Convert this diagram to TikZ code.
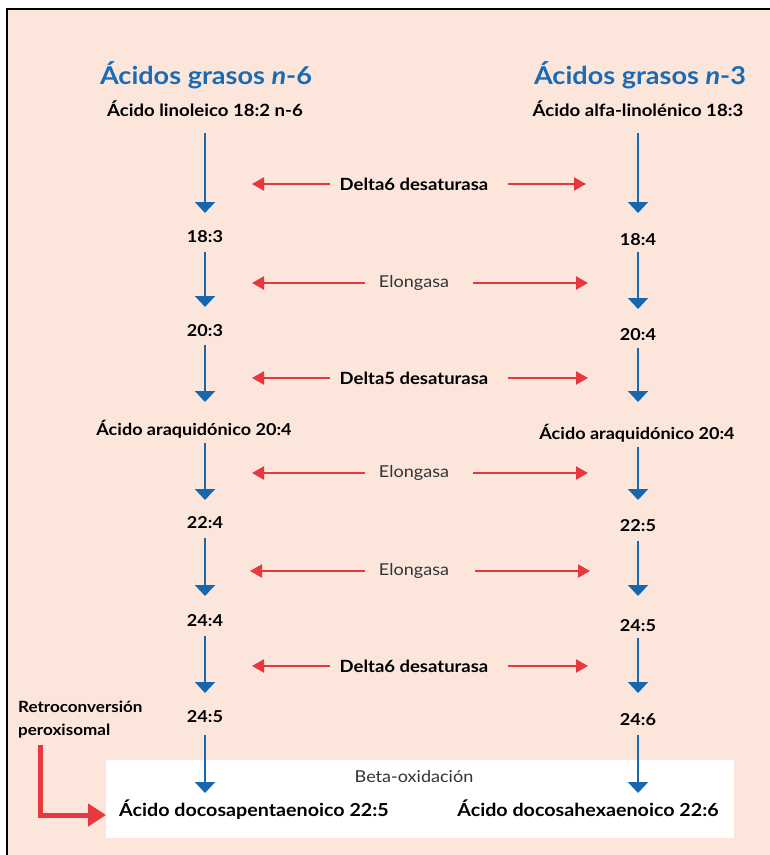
\documentclass[tikz,border=0pt]{standalone}
\usepackage{fontspec}
\setmainfont{Lato}[FakeStretch=1.1]
\usetikzlibrary{arrows.meta}
\definecolor{peach}{HTML}{FCE6DC}
\definecolor{titleblue}{HTML}{1A6BB5}
\definecolor{arrblue}{HTML}{1568B0}
\definecolor{arrred}{HTML}{E8383D}
\definecolor{graytxt}{HTML}{333333}
\tikzset{
  x=1pt,y=-1pt,
  ttl/.style={font=\fontsize{24.6}{28}\selectfont\bfseries, text=titleblue, inner sep=0},
  sub/.style={font=\fontsize{16.9}{18}\selectfont\bfseries, inner sep=0},
  lbl/.style={font=\fontsize{16.4}{18}\selectfont\bfseries, inner sep=0},
  fin/.style={font=\fontsize{17.9}{20}\selectfont\bfseries, inner sep=0},
  enz/.style={font=\fontsize{16.8}{18}\selectfont\bfseries, inner sep=0},
  enzl/.style={font=\fontsize{16.4}{18}\selectfont, text=graytxt, inner sep=0},
  barr/.style={draw=arrblue, line width=2pt, -{Triangle[width=20pt,length=11pt]}},
  rarr/.style={draw=arrred, line width=2.2pt, -{Triangle[width=13pt,length=12pt]}},
}
\begin{document}
\begin{tikzpicture}
\useasboundingbox (0,0) rectangle (770,855);
\fill[peach] (7,9) rectangle (771,856);
\draw[line width=1.6pt] (7,856) -- (7,9) -- (771,9);
\fill[white] (106,760) rectangle (734,838);

% titles
\node[ttl] (t1) at (206,75) {Ácidos grasos \textit{n}-6};
\node[ttl] (t2) at (640,75) {Ácidos grasos \textit{n}-3};
\node[sub] (a0) at (205,109) {Ácido linoleico 18:2 n-6};
\node[sub] (b0) at (638,109) {Ácido alfa-linolénico 18:3};

% left column
\node[lbl] (a1) at (205,237) {18:3};
\node[lbl] (a2) at (205,331) {20:3};
\node[lbl] (a3) at (194,429) {Ácido araquidónico 20:4};
\node[lbl] (a4) at (205,523) {22:4};
\node[lbl] (a5) at (205,621) {24:4};
\node[lbl] (a6) at (205,717) {24:5};
\node[fin] (a7) at (254,810) {Ácido docosapentaenoico 22:5};

% right column
\node[lbl] (b1) at (638,240) {18:4};
\node[lbl] (b2) at (638,335) {20:4};
\node[lbl] (b3) at (637,433) {Ácido araquidónico 20:4};
\node[lbl] (b4) at (638,526) {22:5};
\node[lbl] (b5) at (638,626) {24:5};
\node[lbl] (b6) at (638,720) {24:6};
\node[fin] (b7) at (588,808) {Ácido docosahexaenoico 22:6};

% blue arrows (left)
\coordinate (la0s) at (205,133); \coordinate (la0e) at (205,213);
\coordinate (la1s) at (205,252); \coordinate (la1e) at (205,307);
\coordinate (la2s) at (205,345); \coordinate (la2e) at (205,402);
\coordinate (la3s) at (205,443); \coordinate (la3e) at (205,500);
\coordinate (la4s) at (205,538); \coordinate (la4e) at (205,596);
\coordinate (la5s) at (205,636); \coordinate (la5e) at (205,693);
\coordinate (la6s) at (205,735); \coordinate (la6e) at (205,793);
\foreach \i in {0,...,6} \draw[barr] (la\i s) -- (la\i e);
% blue arrows (right)
\coordinate (rb0s) at (638,133); \coordinate (rb0e) at (638,213);
\coordinate (rb1s) at (638,252); \coordinate (rb1e) at (638,309);
\coordinate (rb2s) at (638,348); \coordinate (rb2e) at (638,402);
\coordinate (rb3s) at (638,447); \coordinate (rb3e) at (638,500);
\coordinate (rb4s) at (638,541); \coordinate (rb4e) at (638,596);
\coordinate (rb5s) at (638,638); \coordinate (rb5e) at (638,693);
\coordinate (rb6s) at (638,735); \coordinate (rb6e) at (638,793);
\foreach \i in {0,...,6} \draw[barr] (rb\i s) -- (rb\i e);

% enzymes
\node[enz]  (e1) at (414,184) {Delta6 desaturasa};
\node[enzl] (e2) at (414,283) {Elongasa};
\node[enz]  (e3) at (414,378) {Delta5 desaturasa};
\node[enzl] (e4) at (414,473) {Elongasa};
\node[enzl] (e5) at (414,571) {Elongasa};
\node[enz]  (e6) at (414,666) {Delta6 desaturasa};

% arrow starts and ends
\coordinate (s1) at (330,184); \coordinate (t1r) at (508,184);
\coordinate (l1) at (252,184); \coordinate (r1) at (586,184);
\coordinate (s2) at (365,283); \coordinate (t2r) at (473,283);
\coordinate (l2) at (252,283); \coordinate (r2) at (588,283);
\coordinate (s3) at (330,378); \coordinate (t3r) at (508,378);
\coordinate (l3) at (252,378); \coordinate (r3) at (588,378);
\coordinate (s4) at (365,473); \coordinate (t4r) at (473,473);
\coordinate (l4) at (252,473); \coordinate (r4) at (588,473);
\coordinate (s5) at (365,571); \coordinate (t5r) at (475,571);
\coordinate (l5) at (250,571); \coordinate (r5) at (590,571);
\coordinate (s6) at (330,666); \coordinate (t6r) at (508,666);
\coordinate (l6) at (252,666); \coordinate (r6) at (588,666);
\foreach \i in {1,...,6} {
  \draw[rarr] (s\i) -- (l\i);
  \draw[rarr] (t\i r) -- (r\i);
}

% beta oxidation
\node[enzl] (bo) at (414,777) {Beta-oxidación};

% retroconversion
\node[font=\fontsize{15.5}{23}\selectfont\bfseries, align=left, anchor=north west, inner sep=0] (rc) at (18,701) {Retroconversión\\peroxisomal};
\coordinate (rcs) at (40,745);
\coordinate (rcc) at (40,815);
\coordinate (rce) at (106,815);
\draw[arrred, line width=5pt, -{Triangle[width=22pt,length=18pt]}] (rcs) -- (rcc) -- (rce);
\end{tikzpicture}
\end{document}
